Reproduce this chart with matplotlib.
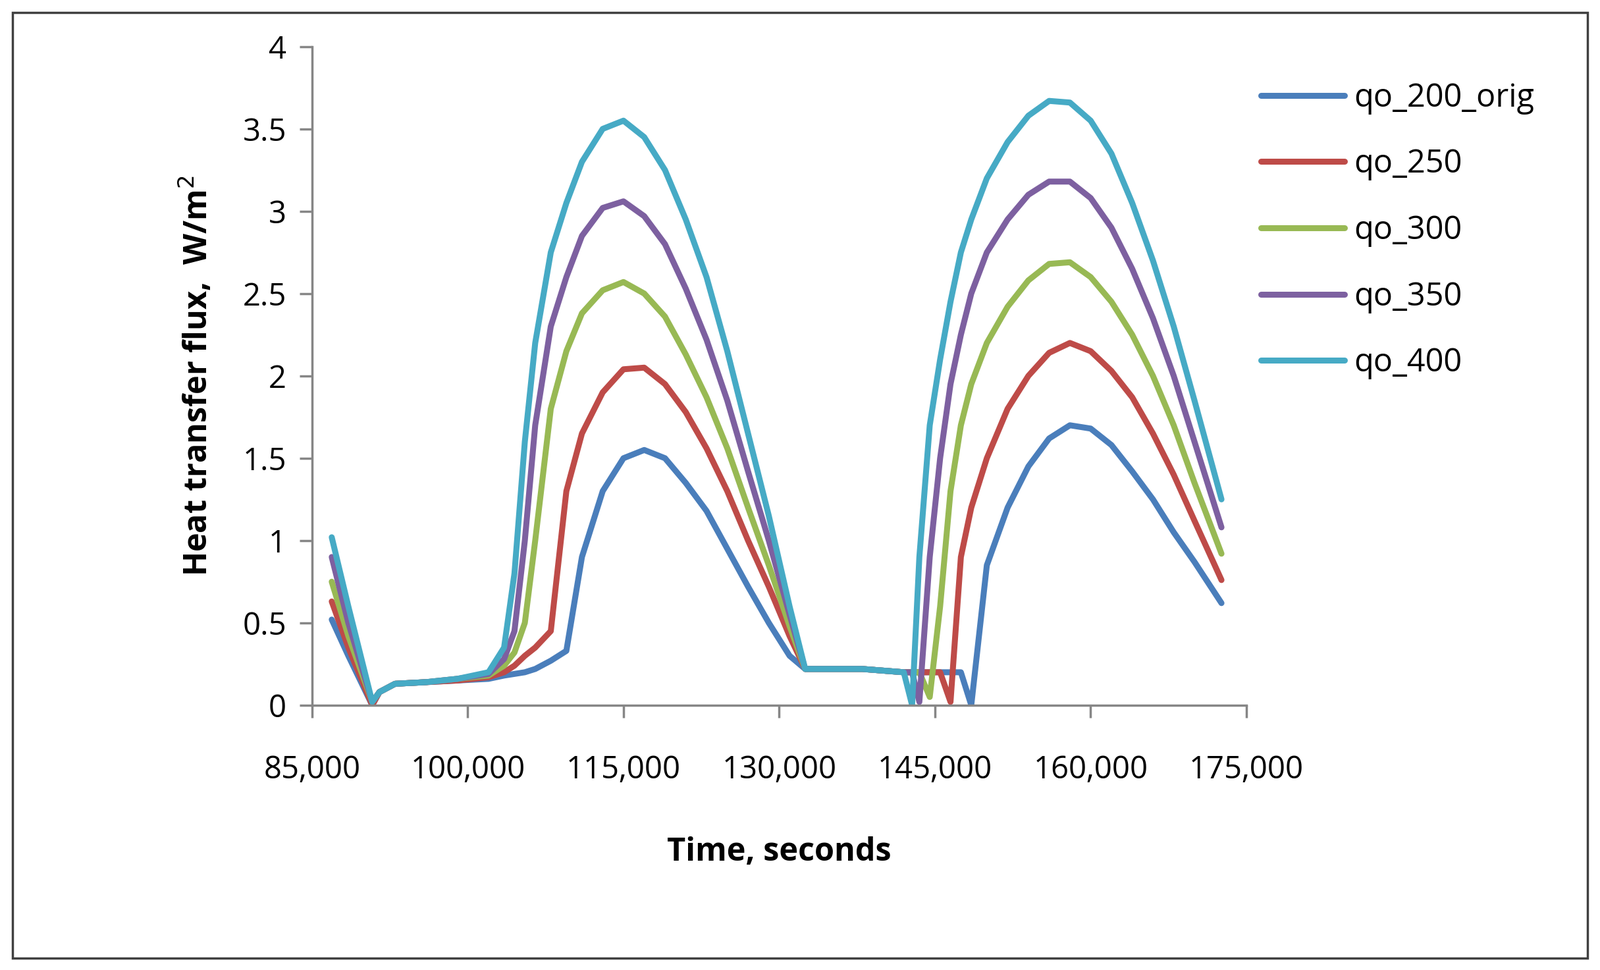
import matplotlib
matplotlib.use("Agg")
import matplotlib.pyplot as plt
from matplotlib.ticker import FuncFormatter
from matplotlib.patches import Rectangle

plt.rcParams["font.family"] = "Open Sans"

t = [86900, 88500, 90800, 91500, 93000, 96000, 99000, 102000, 103500, 104500,
     105500, 106500, 108000, 109500, 111000, 113000, 115000, 117000, 119000, 121000,
     123000, 125000, 127000, 129000, 131000, 132500, 135000, 138000, 142000, 142800,
     143500, 144500, 145500, 146500, 147500, 148500, 150000, 152000, 154000, 156000,
     158000, 160000, 162000, 164000, 166000, 168000, 170000, 172600]

qo_200_orig = [0.52, 0.3, 0.0, 0.08, 0.13, 0.14, 0.15, 0.16, 0.18, 0.19,
               0.2, 0.22, 0.27, 0.33, 0.9, 1.3, 1.5, 1.55, 1.5, 1.35,
               1.18, 0.95, 0.72, 0.5, 0.3, 0.22, 0.22, 0.22, 0.2, 0.2,
               0.2, 0.2, 0.2, 0.2, 0.2, 0.0, 0.85, 1.2, 1.45, 1.62,
               1.7, 1.68, 1.58, 1.42, 1.25, 1.05, 0.87, 0.62]
qo_250 = [0.63, 0.35, 0.0, 0.08, 0.13, 0.14, 0.15, 0.17, 0.2, 0.24,
          0.3, 0.35, 0.45, 1.3, 1.65, 1.9, 2.04, 2.05, 1.95, 1.78,
          1.56, 1.3, 1.0, 0.72, 0.42, 0.22, 0.22, 0.22, 0.2, 0.2,
          0.2, 0.2, 0.2, 0.02, 0.9, 1.2, 1.5, 1.8, 2.0, 2.14,
          2.2, 2.15, 2.03, 1.87, 1.65, 1.4, 1.12, 0.76]
qo_300 = [0.75, 0.42, 0.02, 0.08, 0.13, 0.14, 0.16, 0.18, 0.24, 0.32,
          0.5, 1.0, 1.8, 2.15, 2.38, 2.52, 2.57, 2.5, 2.36, 2.13,
          1.87, 1.56, 1.2, 0.85, 0.48, 0.22, 0.22, 0.22, 0.2, 0.2,
          0.2, 0.05, 0.6, 1.3, 1.7, 1.95, 2.2, 2.42, 2.58, 2.68,
          2.69, 2.6, 2.45, 2.25, 2.0, 1.7, 1.35, 0.92]
qo_350 = [0.9, 0.5, 0.02, 0.08, 0.13, 0.14, 0.16, 0.19, 0.28, 0.45,
          1.0, 1.7, 2.3, 2.6, 2.85, 3.02, 3.06, 2.97, 2.8, 2.53,
          2.22, 1.85, 1.42, 1.0, 0.55, 0.22, 0.22, 0.22, 0.2, 0.2,
          0.02, 0.9, 1.5, 1.95, 2.25, 2.5, 2.75, 2.95, 3.1, 3.18,
          3.18, 3.08, 2.9, 2.65, 2.35, 2.0, 1.6, 1.08]
qo_400 = [1.02, 0.6, 0.02, 0.08, 0.13, 0.14, 0.16, 0.2, 0.35, 0.8,
          1.6, 2.2, 2.75, 3.05, 3.3, 3.5, 3.55, 3.45, 3.25, 2.95,
          2.6, 2.15, 1.65, 1.15, 0.6, 0.22, 0.22, 0.22, 0.2, 0.0,
          0.9, 1.7, 2.1, 2.45, 2.75, 2.95, 3.2, 3.42, 3.58, 3.67,
          3.66, 3.55, 3.35, 3.05, 2.7, 2.3, 1.85, 1.25]

series = [("qo_200_orig", qo_200_orig, "#4A7EBB"),
          ("qo_250", qo_250, "#BE4B48"),
          ("qo_300", qo_300, "#98B954"),
          ("qo_350", qo_350, "#7D60A0"),
          ("qo_400", qo_400, "#46AAC5")]

xticks = [85000, 100000, 115000, 130000, 145000, 160000, 175000]
yticks = [0, 0.5, 1, 1.5, 2, 2.5, 3, 3.5, 4]

fig = plt.figure(figsize=(24.3, 14.73), dpi=100)
ax = fig.add_axes([0.195, 0.273, 0.584, 0.679])
for name, vals, c in series:
    ax.plot(t, vals, color=c, lw=6.5, label=name, solid_joinstyle="round",
            solid_capstyle="round")

ax.set_xlim(85000, 175000)
ax.set_ylim(0, 4)
ax.set_xticks(xticks)
ax.set_yticks(yticks)
ax.yaxis.set_major_formatter(FuncFormatter(lambda v, p: f"{v:g}"))
ax.xaxis.set_major_formatter(FuncFormatter(lambda v, p: f"{int(v):,}"))
for s in ["top", "right"]:
    ax.spines[s].set_visible(False)
for s in ["left", "bottom"]:
    ax.spines[s].set_color("#868686")
    ax.spines[s].set_linewidth(2.5)
ax.tick_params(axis="both", direction="out", length=14, width=2.5, color="#868686",
               labelsize=34)
ax.tick_params(axis="x", pad=40)
ax.tick_params(axis="y", pad=14)
ax.set_xlabel("Time, seconds", fontsize=35, fontweight="bold", labelpad=55)
ax.set_ylabel("Heat transfer flux,  W/m$^2$", fontsize=35, fontweight="bold", labelpad=30)

leg = ax.legend(loc="upper left", bbox_to_anchor=(0.985, 0.99), frameon=False,
                fontsize=35, handlelength=2.6, labelspacing=1.05, handletextpad=0.3)
for l in leg.get_lines():
    l.set_linewidth(6.5)

fig.patches.append(Rectangle((0.008, 0.012), 0.984, 0.975, transform=fig.transFigure,
                             fill=False, edgecolor="#404040", lw=2.5))
fig.savefig("out.png", dpi=100)
